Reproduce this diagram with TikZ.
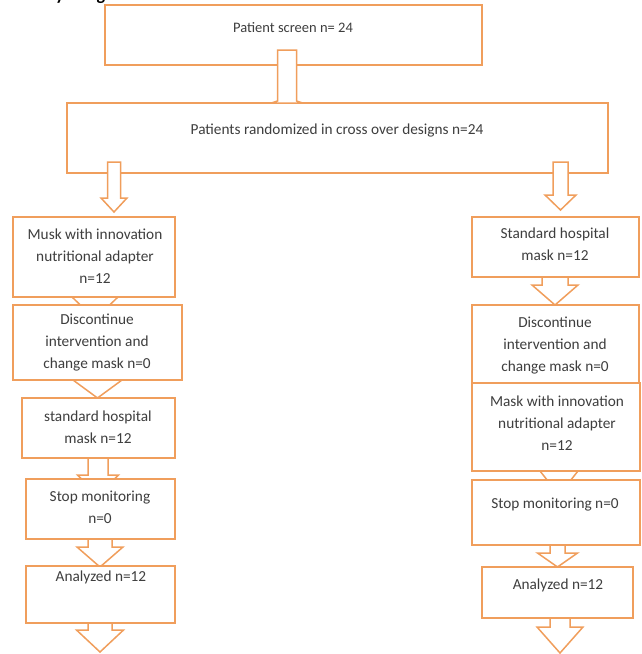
\documentclass[tikz,border=0pt]{standalone}
\usepackage{fontspec}
\setmainfont{Carlito}
\usetikzlibrary{calc}
\pgfdeclarelayer{arrback}
\pgfdeclarelayer{arrfront}
\pgfsetlayers{arrback,main,arrfront}
\definecolor{boxorange}{RGB}{240,158,92}
\definecolor{txtgray}{RGB}{62,62,62}
\tikzset{
  box/.style={draw=boxorange, fill=white, line width=1.5pt, rectangle, inner sep=0pt, outer sep=0pt},
  txt/.style={font=\fontsize{15.3}{22}\selectfont, align=center, text=txtgray, inner sep=0pt},
  toptxt/.style={txt, font=\fontsize{14.5}{22}\selectfont},
  blockarr/.style={draw=boxorange, fill=white, line width=1.5pt, line join=miter},
  headtxt/.style={font=\bfseries\fontsize{18}{18}\selectfont, text=black, inner sep=0pt, anchor=base}
}
% #1 from anchor, #2 to anchor, #3 x, #4 start above #1, #5 tip below #2,
% #6 head length, #7 shaft half width, #8 head half width
\newcommand\barrow[8]{%
  \draw[blockarr] let \p1=(#1), \p2=(#2) in
    ({(#3-#7)*1pt},{\y1+(#4)*1pt}) -- ({(#3+#7)*1pt},{\y1+(#4)*1pt})
    -- ({(#3+#7)*1pt},{\y2-(#5)*1pt+(#6)*1pt}) -- ({(#3+#8)*1pt},{\y2-(#5)*1pt+(#6)*1pt})
    -- ({(#3)*1pt},{\y2-(#5)*1pt})
    -- ({(#3-#8)*1pt},{\y2-(#5)*1pt+(#6)*1pt}) -- ({(#3-#7)*1pt},{\y2-(#5)*1pt+(#6)*1pt}) -- cycle;}
\newcommand\boxnode[5]{\node[box, minimum width={((#4)-(#2))*1pt}, minimum height={((#5)-(#3))*1pt}] (#1) at ({((#2)+(#4))/2},{((#3)+(#5))/2}) {};}
\begin{document}
\begin{tikzpicture}[x=1pt,y=-1pt]
\useasboundingbox (0,0) rectangle (642,654);
% clipped heading fragments (the reference shows only their descenders)
\begin{scope}
  \clip (0,0) rectangle (642,654);
  \node[headtxt] (hy) at (60,0) {y};
  \node[headtxt] (hg) at (101,0) {g};
\end{scope}
% boxes
\boxnode{b1}{105}{5}{482}{65}
\boxnode{b2}{67}{103}{608}{173}
\boxnode{lmusk}{13}{217}{175}{297}
\boxnode{ldisc}{13}{305}{182}{380}
\boxnode{lstd}{22}{398}{175}{458}
\boxnode{lstop}{26}{479}{175}{539}
\boxnode{lan}{26}{566}{175}{623}
\boxnode{rstd}{472}{217}{639}{277}
\boxnode{rdisc}{472}{305}{639}{383}
\boxnode{rmask}{472}{383}{640}{471}
\boxnode{rstop}{472}{480}{640}{545}
\boxnode{ran}{482}{567}{633}{618}
\coordinate (lend) at (100,652);
\coordinate (rend) at (560,653);
% texts
\node[toptxt] (tb1) at (293,28) {Patient screen n= 24};
\node[txt] (tb2) at (337,130) {Patients randomized in cross over designs n=24};
\node[txt] (tlmusk) at (95,256) {Musk with innovation\\nutritional adapter\\n=12};
\node[txt] (tldisc) at (97,343) {Discontinue\\intervention and\\change mask n=0};
\node[txt] (tlstd) at (98,427) {standard hospital\\mask n=12};
\node[txt] (tlstop) at (100,507) {Stop monitoring\\n=0};
\node[txt] (tlan) at (101,577) {Analyzed n=12};
\node[txt] (trstd) at (555,244) {Standard hospital\\mask n=12};
\node[txt] (trdisc) at (555,346) {Discontinue\\intervention and\\change mask n=0};
\node[txt] (trmask) at (557,423) {Mask with innovation\\nutritional adapter\\n=12};
\node[txt] (trstop) at (555,505) {Stop monitoring n=0};
\node[txt] (tran) at (558,585) {Analyzed n=12};
% arrows in front
\begin{pgfonlayer}{arrfront}
  \draw[blockarr] ($(b1.south -| tb1.center)+(-15.5,-15)$) -- ($(b1.south -| tb1.center)+(3.5,-15)$)
    -- ($(b2.north -| tb1.center)+(3.5,-2)$) -- ($(b2.north -| tb1.center)+(9.5,0)$)
    -- ($(b2.north -| tb1.center)+(-21.5,0)$) -- ($(b2.north -| tb1.center)+(-15.5,-2)$) -- cycle;
  \barrow{b2.south}{lmusk.north}{114}{11}{-5}{14}{6.5}{13}
  \barrow{b2.south}{rstd.north}{560.5}{11}{-7}{15}{7.5}{15.5}
\end{pgfonlayer}
% arrows behind
\begin{pgfonlayer}{arrback}
  \barrow{lmusk.south}{ldisc.north}{95}{10}{14}{22}{12}{23}
  \barrow{ldisc.south}{lstd.north}{97.5}{10}{0}{18}{12}{24.5}
  \barrow{lstd.south}{lstop.north}{98}{10}{16}{20}{10}{20.5}
  \barrow{lstop.south}{lan.north}{100}{10}{1}{20}{12}{23}
  \barrow{lan.south}{lend}{100}{10}{0}{22}{12}{23.5}
  \barrow{rstd.south}{rdisc.north}{555}{10}{0}{20}{13}{23}
  \barrow{rmask.south}{rstop.north}{559}{10}{15}{24}{10}{19}
  \barrow{rstop.south}{ran.north}{557.5}{10}{0}{14}{7.5}{20}
  \barrow{ran.south}{rend}{560}{10}{0}{26}{10}{23}
\end{pgfonlayer}
\end{tikzpicture}
\end{document}
